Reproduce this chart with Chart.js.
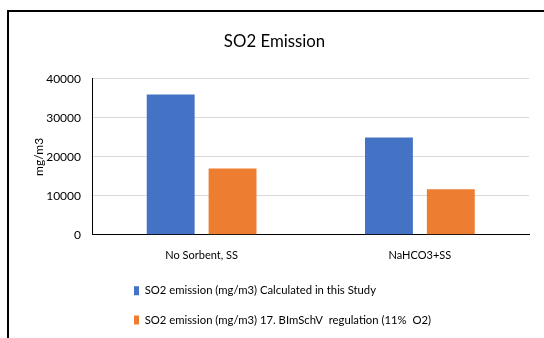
<!DOCTYPE html>
<html><head><meta charset="utf-8">
<script src="https://cdn.jsdelivr.net/npm/chart.js@4"></script>
<style>
html,body{margin:0;padding:0;background:#fff;}
#wrap{position:relative;width:544px;height:338px;overflow:hidden;}
#frame{position:absolute;left:7px;top:10px;width:700px;height:500px;border-left:2px solid #000;border-top:2px solid #000;pointer-events:none;}
</style></head>
<body>
<div id="wrap"><canvas id="c" width="544" height="338"></canvas><div id="frame"></div></div>
<script>
const chartTitle = 'SO2 Emission';
const yAxisTitle = 'mg/m3';
const categories = ['No Sorbent, SS', 'NaHCO3+SS'];
const seriesNames = ['SO2 emission (mg/m3) Calculated in this Study', 'SO2 emission (mg/m3) 17. BImSchV  regulation (11%  O2)'];
const calculated = [36000, 25000];
const regulation = [17000, 11700];
const yMin = 0, yMax = 40000, yStep = 10000;

const FONT = 'Lato, sans-serif';
const legendShift = {
  id: 'legendShift',
  afterLayout(chart) {
    const lg = chart.legend;
    if (lg) { lg.left += 23.5; lg.right += 23.5; }
  }
};

new Chart(document.getElementById('c'), {
  type: 'bar',
  data: {
    labels: categories,
    datasets: [
      { label: seriesNames[0], data: calculated, backgroundColor: '#4472C4', categoryPercentage: 0.567, barPercentage: 0.774 },
      { label: seriesNames[1], data: regulation, backgroundColor: '#ED7D31', categoryPercentage: 0.567, barPercentage: 0.774 }
    ]
  },
  options: {
    responsive: false,
    animation: false,
    devicePixelRatio: 1,
    layout: { padding: { top: 20, left: 20, right: 15, bottom: 2.4 } },
    plugins: {
      title: {
        display: true, text: chartTitle, color: '#000',
        font: { family: FONT, size: 16.8, weight: 'normal', lineHeight: 1.2 },
        padding: { top: 11.8, bottom: 27 }
      },
      legend: {
        position: 'bottom', align: 'start', fullSize: false,
        labels: {
          boxWidth: 5, boxHeight: 9, padding: 18, color: '#000',
          font: { family: FONT, size: 11.3 }
        }
      },
      tooltip: { enabled: false }
    },
    scales: {
      x: {
        afterFit: s => { s.height = 32.2; },
        grid: { display: false, drawTicks: false },
        border: { display: true, color: '#000', width: 1 },
        ticks: { color: '#000', padding: 14, font: { family: FONT, size: 11, lineHeight: 1.2 } }
      },
      y: {
        min: yMin, max: yMax,
        afterFit: s => { s.width = 72.5; },
        grid: { color: '#d9d9d9', lineWidth: 1, drawTicks: false },
        border: { display: true, color: '#000', width: 1 },
        ticks: { stepSize: yStep, color: '#000', padding: 11.5, font: { family: FONT, size: 12 }, callback: v => String(v) },
        title: {
          display: true, text: yAxisTitle, color: '#000',
          font: { family: FONT, size: 12, lineHeight: 1.2 },
          padding: { top: 12, bottom: 0 }
        }
      }
    }
  },
  plugins: [legendShift]
});
</script>
</body></html>
